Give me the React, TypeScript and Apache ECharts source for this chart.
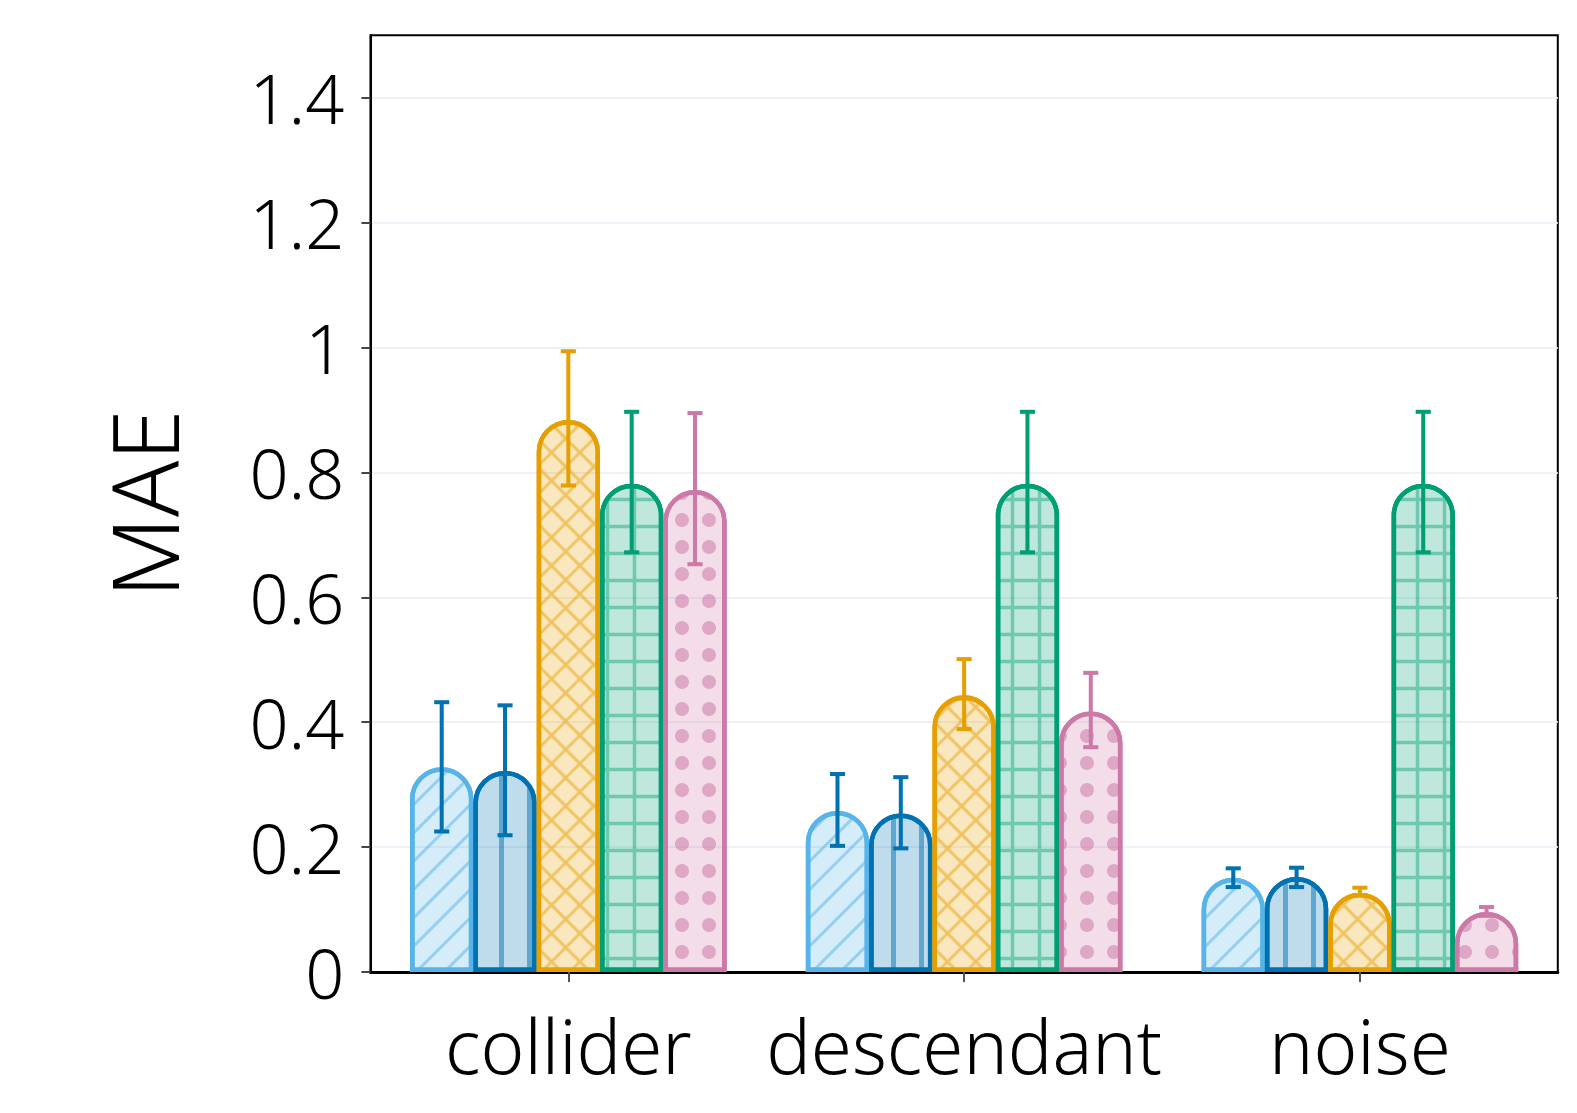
import React, { useEffect, useRef } from "react";
import * as echarts from "echarts";

const categories = ["collider", "descendant", "noise"];
const seriesNames = ["Method A", "Method B", "Method C", "Method D", "Method E"];
const yTicks = [0, 0.2, 0.4, 0.6, 0.8, 1, 1.2, 1.4];

// bar heights per series (collider, descendant, noise)
const meanA = [0.328, 0.258, 0.151];
const meanB = [0.322, 0.254, 0.152];
const meanC = [0.884, 0.443, 0.127];
const meanD = [0.782, 0.782, 0.782];
const meanE = [0.772, 0.417, 0.096];

// error bar low / high per series
const lowA = [0.225, 0.202, 0.136];
const highA = [0.432, 0.317, 0.166];
const lowB = [0.219, 0.198, 0.136];
const highB = [0.427, 0.312, 0.167];
const lowC = [0.779, 0.389, 0.123];
const highC = [0.994, 0.501, 0.135];
const lowD = [0.672, 0.672, 0.672];
const highD = [0.897, 0.897, 0.897];
const lowE = [0.653, 0.36, 0.09];
const highE = [0.895, 0.479, 0.104];

const means = [meanA, meanB, meanC, meanD, meanE];
const lows = [lowA, lowB, lowC, lowD, lowE];
const highs = [highA, highB, highC, highD, highE];

const lineColors = ["#56B4E9", "#0072B2", "#E69F00", "#009E73", "#CC79A7"];
const fillColors = [
  "rgba(86,180,233,0.25)",
  "rgba(0,114,178,0.25)",
  "rgba(230,159,0,0.25)",
  "rgba(0,158,115,0.25)",
  "rgba(204,121,167,0.25)",
];
const errColors = ["#0072B2", "#0072B2", "#E69F00", "#009E73", "#CC79A7"];

const decals: any[] = [
  {
    symbol: "rect",
    symbolSize: 1,
    dashArrayX: [[10, 0]],
    dashArrayY: [3, 17],
    rotation: -Math.PI / 4,
    color: "rgba(86,180,233,0.5)",
  },
  {
    symbol: "rect",
    symbolSize: 1,
    dashArrayX: [[0, 23, 5, 0]],
    dashArrayY: [10, 0],
    rotation: 0,
    color: "rgba(0,114,178,0.5)",
  },
  {
    symbol: "path://M0,8.6L20,8.6L20,11.4L0,11.4Z M8.6,0L11.4,0L11.4,20L8.6,20Z",
    symbolSize: 1,
    dashArrayX: [[20, 0]],
    dashArrayY: [20, 0],
    rotation: Math.PI / 4,
    color: "rgba(230,159,0,0.5)",
  },
  {
    symbol: "path://M0,11.75L27,11.75L27,15.25L0,15.25Z M11.75,0L15.25,0L15.25,27L11.75,27Z",
    symbolSize: 1,
    dashArrayX: [[27, 0]],
    dashArrayY: [27, 0],
    rotation: 0,
    color: "rgba(0,158,115,0.42)",
  },
  {
    symbol: "circle",
    symbolSize: 1,
    dashArrayX: [[14, 13]],
    dashArrayY: [14, 13],
    rotation: 0,
    color: "rgba(204,121,167,0.55)",
  },
];

const FONT = "'Noto Sans', 'Open Sans', sans-serif";
const WEIGHT = 300;
const K = 1.0067;
const px = (v: number) => v * K;

export default function App() {
  const ref = useRef<HTMLDivElement>(null);

  useEffect(() => {
    if (!ref.current) return;
    const chart = echarts.init(ref.current, null, { renderer: "svg" });

    const barSeries = means.map((m, i) => ({
      type: "bar",
      name: seriesNames[i],
      data: m,
      barGap: "0%",
      barCategoryGap: "20%",
      z: 2,
      itemStyle: {
        color: fillColors[i],
        borderColor: lineColors[i],
        borderWidth: px(4.5),
        borderRadius: [50, 50, 0, 0],
        decal: decals[i],
      },
      emphasis: { disabled: true },
    }));

    const errSeries = lows.map((lo, i) => ({
      type: "custom",
      name: seriesNames[i] + " error",
      z: 5,
      data: categories.map((_, c) => [c, lo[c], highs[i][c]]),
      encode: { x: 0, y: [1, 2] },
      renderItem: (params: any, api: any) => {
        const c = api.value(0);
        const pLo = api.coord([c, api.value(1)]);
        const pHi = api.coord([c, api.value(2)]);
        const band = api.size([1, 0])[0];
        const barW = (band * 0.8) / 5;
        const x = pLo[0] + (i - 2) * barW;
        const cap = px(7.5);
        const style = { stroke: errColors[i], lineWidth: px(4), fill: null };
        return {
          type: "group",
          children: [
            { type: "line", shape: { x1: x, y1: pHi[1], x2: x, y2: pLo[1] }, style },
            { type: "line", shape: { x1: x - cap, y1: pHi[1], x2: x + cap, y2: pHi[1] }, style },
            { type: "line", shape: { x1: x - cap, y1: pLo[1], x2: x + cap, y2: pLo[1] }, style },
          ],
        };
      },
    }));

    chart.setOption({
      animation: false,
      backgroundColor: "#ffffff",
      grid: {
        left: px(368),
        right: px(30),
        top: px(35),
        bottom: px(147),
        show: true,
        borderColor: "#000",
        borderWidth: px(2),
        backgroundColor: "transparent",
      },
      xAxis: {
        type: "category",
        data: categories,
        axisLine: { show: true, lineStyle: { color: "#000", width: px(3) } },
        axisTick: {
          show: true,
          alignWithLabel: true,
          length: px(10),
          lineStyle: { color: "#555", width: px(2) },
        },
        axisLabel: {
          interval: 0,
          fontSize: px(74),
          fontWeight: WEIGHT,
          color: "#000",
          fontFamily: FONT,
          margin: px(36),
        },
        splitLine: { show: false },
      },
      yAxis: {
        type: "value",
        min: 0,
        max: 1.5,
        interval: 0.2,
        name: "MAE",
        nameLocation: "middle",
        nameGap: px(180),
        nameTextStyle: { fontSize: px(92), fontWeight: WEIGHT, color: "#000", fontFamily: FONT },
        axisLine: { show: true, lineStyle: { color: "#000", width: px(2) } },
        axisTick: {
          show: true,
          length: px(9),
          lineStyle: { color: "#444", width: px(2) },
          customValues: yTicks,
        },
        axisLabel: {
          fontSize: px(68),
          fontWeight: WEIGHT,
          color: "#000",
          fontFamily: FONT,
          margin: px(26),
          customValues: yTicks,
          formatter: (v: number) => (v > 1.45 ? "" : String(Math.round(v * 10) / 10)),
        },
        splitLine: { show: true, lineStyle: { color: "#eef1f7", width: px(2) } },
      },
      series: [...barSeries, ...errSeries],
    });

    return () => chart.dispose();
  }, []);

  return (
    <div
      ref={ref}
      style={{
        position: "fixed",
        left: 0,
        top: 0,
        width: px(1577),
        height: px(1113),
        background: "#fff",
      }}
    />
  );
}
